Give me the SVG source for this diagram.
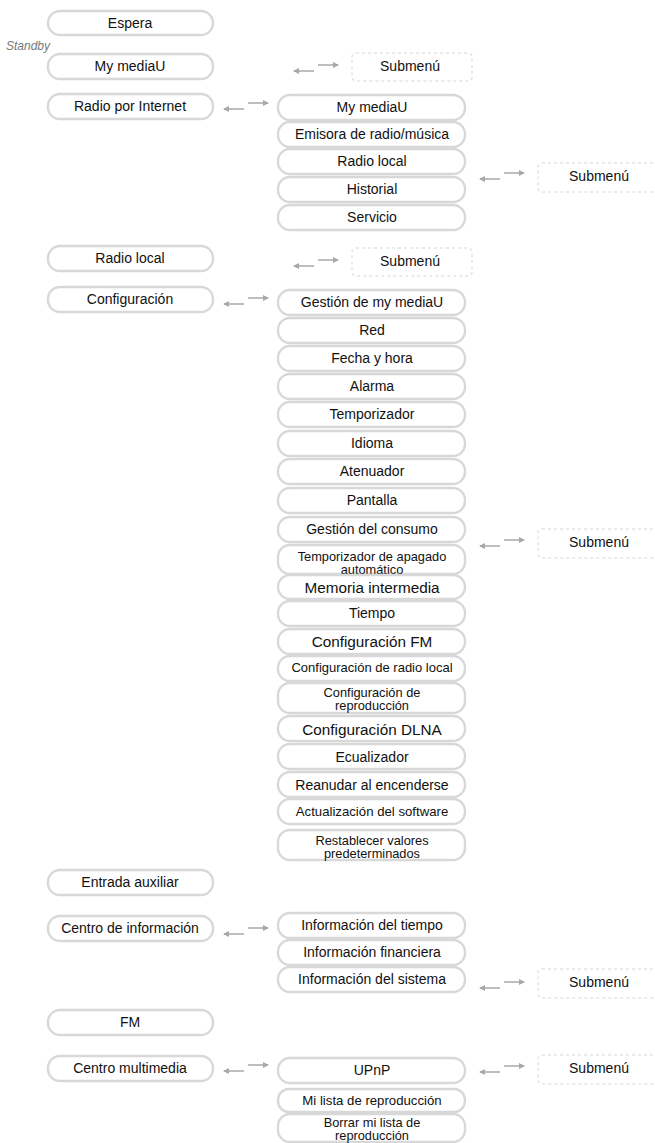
<svg xmlns="http://www.w3.org/2000/svg" xmlns:xlink="http://www.w3.org/1999/xlink" width="655" height="1143" viewBox="0 0 655 1143">
<style>
.b{fill:#fff;stroke:#d8d8d8;stroke-width:2.4}
.s{fill:none;stroke:#e4e4e4;stroke-width:1.5;stroke-dasharray:3 3}
text{font-family:"Liberation Sans",Arial,sans-serif;font-size:14px;fill:#111;text-anchor:middle;dominant-baseline:central}
.sm{font-size:13.2px}
.tw{font-size:12.8px}
.xs{font-size:13px}
.lg{font-size:15.3px}
.sb{font-size:12px;font-style:italic;fill:#777;text-anchor:start}
.c line{stroke:#a8a8a8;stroke-width:1.5}
</style>
<defs>
<marker id="ah" markerWidth="6" markerHeight="6" refX="5" refY="3" orient="auto" markerUnits="userSpaceOnUse"><path d="M0,0 L6,3 L0,6 z" fill="#a8a8a8"/></marker>
<g id="dbl" class="c"><line x1="22" y1="3" x2="2" y2="3" marker-end="url(#ah)"/><line x1="26" y1="-3" x2="46" y2="-3" marker-end="url(#ah)"/></g>
</defs>
<rect width="655" height="1143" fill="#fff"/>
<text class="sb" x="6" y="46">Standby</text>
<g id="left">
<g id="n-espera"><rect class="b" x="48" y="11" width="165" height="24" rx="12"/><text x="130" y="23">Espera</text></g>
<g id="n-mymediau"><rect class="b" x="48" y="54" width="165" height="25" rx="12"/><text x="130" y="66">My mediaU</text></g>
<g id="n-radiointernet"><rect class="b" x="48" y="94" width="165" height="25" rx="12"/><text x="130" y="106">Radio por Internet</text></g>
<g id="n-radiolocal"><rect class="b" x="48" y="246" width="165" height="25" rx="12"/><text x="130" y="258">Radio local</text></g>
<g id="n-config"><rect class="b" x="48" y="287" width="165" height="25" rx="12"/><text x="130" y="299">Configuración</text></g>
<g id="n-aux"><rect class="b" x="48" y="870" width="165" height="25" rx="12"/><text x="130" y="882">Entrada auxiliar</text></g>
<g id="n-info"><rect class="b" x="48" y="916" width="165" height="25" rx="12"/><text x="130" y="928">Centro de información</text></g>
<g id="n-fm"><rect class="b" x="48" y="1010" width="165" height="25" rx="12"/><text x="130" y="1022">FM</text></g>
<g id="n-multi"><rect class="b" x="48" y="1056" width="165" height="25" rx="12"/><text x="130" y="1068">Centro multimedia</text></g>
</g>
<g id="mid">
<g id="m-mymediau"><rect class="b" x="278" y="95" width="187" height="25" rx="12"/><text x="372" y="107">My mediaU</text></g>
<g id="m-emisora"><rect class="b" x="278" y="122" width="187" height="25" rx="12"/><text x="372" y="134">Emisora de radio/música</text></g>
<g id="m-radiolocal"><rect class="b" x="278" y="149" width="187" height="25" rx="12"/><text x="372" y="161">Radio local</text></g>
<g id="m-historial"><rect class="b" x="278" y="177" width="187" height="25" rx="12"/><text x="372" y="189">Historial</text></g>
<g id="m-servicio"><rect class="b" x="278" y="205" width="187" height="25" rx="12"/><text x="372" y="217">Servicio</text></g>
<g id="m-gestion"><rect class="b" x="278" y="290" width="187" height="25" rx="12"/><text x="372" y="302">Gestión de my mediaU</text></g>
<g id="m-red"><rect class="b" x="278" y="318" width="187" height="25" rx="12"/><text x="372" y="330">Red</text></g>
<g id="m-fecha"><rect class="b" x="278" y="346" width="187" height="25" rx="12"/><text x="372" y="358">Fecha y hora</text></g>
<g id="m-alarma"><rect class="b" x="278" y="374" width="187" height="25" rx="12"/><text x="372" y="386">Alarma</text></g>
<g id="m-temp"><rect class="b" x="278" y="402" width="187" height="25" rx="12"/><text x="372" y="414">Temporizador</text></g>
<g id="m-idioma"><rect class="b" x="278" y="431" width="187" height="25" rx="12"/><text x="372" y="443">Idioma</text></g>
<g id="m-aten"><rect class="b" x="278" y="459" width="187" height="25" rx="12"/><text x="372" y="471">Atenuador</text></g>
<g id="m-pantalla"><rect class="b" x="278" y="488" width="187" height="25" rx="12"/><text x="372" y="500">Pantalla</text></g>
<g id="m-consumo"><rect class="b" x="278" y="517" width="187" height="25" rx="12"/><text x="372" y="529">Gestión del consumo</text></g>
<g id="m-apagado"><rect class="b" x="278" y="545" width="187" height="29" rx="12"/><text class="tw" x="372" y="556">Temporizador de apagado</text><text class="tw" x="372" y="569">automático</text></g>
<g id="m-memoria"><rect class="b" x="278" y="575" width="187" height="24" rx="12"/><text class="lg" x="372" y="587">Memoria intermedia</text></g>
<g id="m-tiempo"><rect class="b" x="278" y="601" width="187" height="25" rx="12"/><text x="372" y="613">Tiempo</text></g>
<g id="m-cfm"><rect class="b" x="278" y="629" width="187" height="25" rx="12"/><text class="lg" x="372" y="641">Configuración FM</text></g>
<g id="m-crl"><rect class="b" x="278" y="656" width="187" height="25" rx="12"/><text class="xs" x="372" y="667">Configuración de radio local</text></g>
<g id="m-crep"><rect class="b" x="278" y="683" width="187" height="30" rx="12"/><text class="tw" x="372" y="692">Configuración de</text><text class="tw" x="372" y="705">reproducción</text></g>
<g id="m-dlna"><rect class="b" x="278" y="716" width="187" height="25" rx="12"/><text class="lg" x="372" y="729">Configuración DLNA</text></g>
<g id="m-ecu"><rect class="b" x="278" y="744" width="187" height="25" rx="12"/><text x="372" y="757">Ecualizador</text></g>
<g id="m-reanudar"><rect class="b" x="278" y="772" width="187" height="25" rx="12"/><text x="372" y="785">Reanudar al encenderse</text></g>
<g id="m-actual"><rect class="b" x="278" y="799" width="187" height="25" rx="12"/><text class="sm" x="372" y="811">Actualización del software</text></g>
<g id="m-restab"><rect class="b" x="278" y="830" width="187" height="30" rx="12"/><text class="tw" x="372" y="840">Restablecer valores</text><text class="tw" x="372" y="853">predeterminados</text></g>
<g id="m-itiempo"><rect class="b" x="278" y="913" width="187" height="25" rx="12"/><text x="372" y="925">Información del tiempo</text></g>
<g id="m-ifin"><rect class="b" x="278" y="940" width="187" height="25" rx="12"/><text x="372" y="952">Información financiera</text></g>
<g id="m-isis"><rect class="b" x="278" y="967" width="187" height="25" rx="12"/><text x="372" y="979">Información del sistema</text></g>
<g id="m-upnp"><rect class="b" x="278" y="1058" width="187" height="25" rx="12"/><text x="372" y="1070">UPnP</text></g>
<g id="m-milista"><rect class="b" x="278" y="1089" width="187" height="23" rx="11"/><text class="sm" x="372" y="1100">Mi lista de reproducción</text></g>
<g id="m-borrar"><rect class="b" x="278" y="1114" width="187" height="28" rx="12"/><text class="tw" x="372" y="1122">Borrar mi lista de</text><text class="tw" x="372" y="1135">reproducción</text></g>
</g>
<g id="submenus">
<g id="s1"><rect class="s" x="352" y="53" width="120" height="28" rx="4"/><text x="410" y="66">Submenú</text></g>
<g id="s2"><rect class="s" x="538" y="163" width="125" height="29" rx="4"/><text x="599" y="176">Submenú</text></g>
<g id="s3"><rect class="s" x="352" y="248" width="120" height="28" rx="4"/><text x="410" y="261">Submenú</text></g>
<g id="s4"><rect class="s" x="538" y="529" width="125" height="29" rx="4"/><text x="599" y="542">Submenú</text></g>
<g id="s5"><rect class="s" x="538" y="969" width="125" height="29" rx="4"/><text x="599" y="982">Submenú</text></g>
<g id="s6"><rect class="s" x="538" y="1055" width="125" height="29" rx="4"/><text x="599" y="1068">Submenú</text></g>
</g>
<g id="connectors">
<use xlink:href="#dbl" x="292" y="68"/>
<use xlink:href="#dbl" x="222" y="106"/>
<use xlink:href="#dbl" x="478" y="176"/>
<use xlink:href="#dbl" x="292" y="263"/>
<use xlink:href="#dbl" x="222" y="301"/>
<use xlink:href="#dbl" x="478" y="543"/>
<use xlink:href="#dbl" x="222" y="931"/>
<use xlink:href="#dbl" x="478" y="985"/>
<use xlink:href="#dbl" x="222" y="1068"/>
<use xlink:href="#dbl" x="478" y="1069"/>
</g>
</svg>
